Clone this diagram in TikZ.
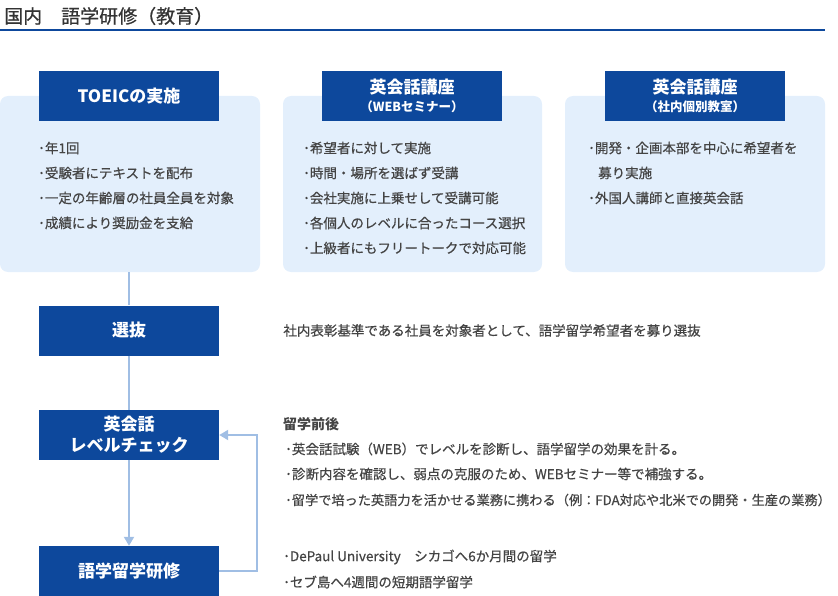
\documentclass[tikz,border=0pt]{standalone}
\usepackage{fontspec}
\setmainfont{Noto Sans CJK JP}
\newfontfamily\itemfont[FakeBold=0.6]{Noto Sans CJK JP}
\usetikzlibrary{positioning,arrows.meta}

\definecolor{hdblue}{RGB}{13,72,156}
\definecolor{pale}{RGB}{227,239,252}
\definecolor{linkblue}{RGB}{160,190,228}
\definecolor{txtgray}{RGB}{68,68,68}
\definecolor{titlegray}{RGB}{51,51,51}

\tikzset{
  panel/.style={fill=pale, rounded corners=8pt, inner sep=0pt},
  head/.style={fill=hdblue, text=white, font=\bfseries\fontsize{17}{19}\selectfont,
    minimum width=180pt, minimum height=50pt, inner sep=0pt, align=center},
  item/.style={anchor=west, text=txtgray, font=\itemfont\fontsize{13.5}{16}\selectfont, inner sep=0pt},
  link/.style={draw=linkblue, line width=2pt},
  tip/.style={-{Triangle[width=10pt,length=9pt]}},
}

\begin{document}
\begin{tikzpicture}[x=1pt,y=1pt,yscale=-1,xscale=1]
\useasboundingbox (0,0) rectangle (838,596);
% title
\node [anchor=west, inner sep=0pt, text=titlegray, font=\itemfont\fontsize{19}{22}\selectfont] (title) at (4,16) {国内　語学研修（教育）};
\draw [hdblue, line width=2pt] (0,30) -- (825,30);

% panels
\node [panel, minimum width=260pt, minimum height=176pt] (p1) at (130,184) {};
\node [panel, minimum width=259pt, minimum height=176pt] (p2) at (412.5,184) {};
\node [panel, minimum width=260pt, minimum height=176pt] (p3) at (695,184) {};

% headers
\node [head] (h1) at (129,96) {TOEICの実施};
\node [head] (h2) at (412,96) {英会話講座\\[-1pt]{\fontsize{12.5}{15}\selectfont （WEBセミナー）}};
\node [head] (h3) at (695,96) {英会話講座\\[-1pt]{\fontsize{12.5}{15}\selectfont （社内個別教室）}};

% panel items
\node [item] (a1) at (38,148) {･年1回};
\node [item] (a2) at (38,173) {･受験者にテキストを配布};
\node [item] (a3) at (38,198) {･一定の年齢層の社員全員を対象};
\node [item] (a4) at (38,223) {･成績により奨励金を支給};

\node [item] (b1) at (303,148) {･希望者に対して実施};
\node [item] (b2) at (303,173) {･時間・場所を選ばず受講};
\node [item] (b3) at (303,198) {･会社実施に上乗せして受講可能};
\node [item] (b4) at (303,223) {･各個人のレベルに合ったコース選択};
\node [item] (b5) at (303,248) {･上級者にもフリートークで対応可能};

\node [item] (c1) at (588,148) {･開発・企画本部を中心に希望者を};
\node [item] (c2) at (598,173) {募り実施};
\node [item] (c3) at (588,198) {･外国人講師と直接英会話};

% steps
\node [head] (sel) at (129,330.5) {選抜};
\node [head, font=\bfseries\fontsize{17}{21}\selectfont] (chk) at (129,435) {英会話\\レベルチェック};
\node [head] (stu) at (129,571) {語学留学研修};

\draw [link] (p1.south -| sel.north) -- (sel.north);
\draw [link] (sel.south) -- (chk.north);
\draw [link, tip] (chk.south) -- (stu.north);
\draw [link, tip] (stu.east) -- ++(38,0) |- (chk.east);

% notes
\node [item, right=64pt of sel] (selnote) {社内表彰基準である社員を対象者として、語学留学希望者を募り選抜};
\node [item, font=\bfseries\fontsize{14}{16}\selectfont] (pre) at (283,424) {留学前後};
\node [item] (d1) at (285,449) {･英会話試験（WEB）でレベルを診断し、語学留学の効果を計る。};
\node [item] (d2) at (285,474) {･診断内容を確認し、弱点の克服のため、WEBセミナー等で補強する。};
\node [item, font=\itemfont\fontsize{13.2}{16}\selectfont] (d3) at (285,500) {･留学で培った英語力を活かせる業務に携わる（例：FDA対応や北米での開発・生産の業務）};
\node [item] (e1) at (283,557) {･DePaul University　シカゴへ6か月間の留学};
\node [item] (e2) at (283,582) {･セブ島へ4週間の短期語学留学};
\end{tikzpicture}
\end{document}
